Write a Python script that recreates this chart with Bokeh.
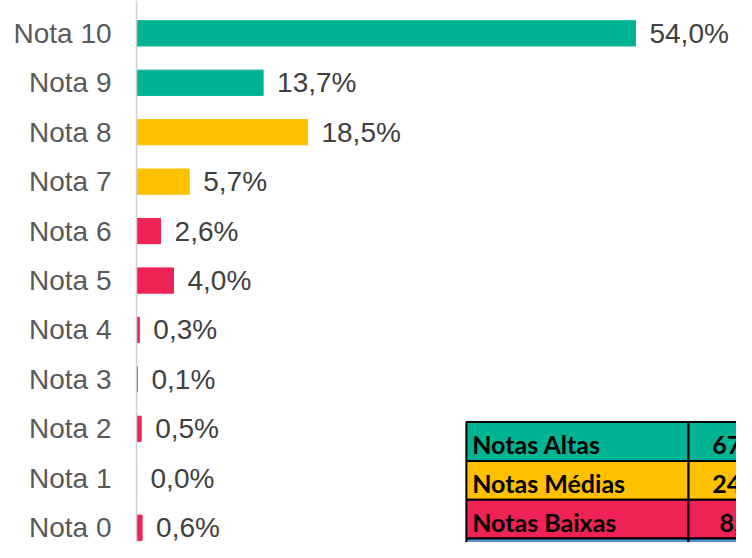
from bokeh.plotting import figure
from bokeh.models import Range1d, Span, ColumnDataSource
from bokeh.core.properties import value
from bokeh.embed import file_html
from bokeh.resources import INLINE

# ---- data ----
categories = ["Nota 10", "Nota 9", "Nota 8", "Nota 7", "Nota 6", "Nota 5",
              "Nota 4", "Nota 3", "Nota 2", "Nota 1", "Nota 0"]
grades = [10, 9, 8, 7, 6, 5, 4, 3, 2, 1, 0]
percents = [54.0, 13.7, 18.5, 5.7, 2.6, 4.0, 0.3, 0.1, 0.5, 0.0, 0.6]
groups = ["alta", "alta", "media", "media", "baixa", "baixa",
          "baixa", "baixa", "baixa", "baixa", "baixa"]

table_labels = ["Notas Altas", "Notas Médias", "Notas Baixas"]
table_values = ["67,7%", "24,2%", "8,1%"]
table_groups = ["alta", "media", "baixa", "total"]

palette = {"alta": "#00B493", "media": "#FFC000", "baixa": "#EF2256", "total": "#5B8FD9"}

# ---- layout (pixels) ----
W, H = 736, 542
SX, SY = W / 752, H / 558
PX_PER_PCT = 9.44 * SX
AXIS_PX = 139.0 * SX
ROW_PX = 50.9 * SY
TOP_CENTER_PX = 33.8 * SY

x_start = -AXIS_PX / PX_PER_PCT
x_end = (W - AXIS_PX) / PX_PER_PCT
y_end = 10 + TOP_CENTER_PX / ROW_PX
y_start = y_end - H / ROW_PX

def dx(px):
    return x_start + px * SX / PX_PER_PCT

def dy(py):
    return y_end - py * SY / ROW_PX

p = figure(width=W, height=H, x_range=Range1d(x_start, x_end),
           y_range=Range1d(y_start, y_end), output_backend="svg",
           toolbar_location=None, min_border=0, title=None,
           x_axis_location=None, y_axis_location=None)
p.grid.visible = False
p.outline_line_color = None
p.background_fill_color = "white"
p.border_fill_color = "white"

# axis line
p.add_layout(Span(location=0, dimension="height", line_color="#d0d0d0", line_width=1.5))

src = ColumnDataSource(dict(
    y=grades, v=percents, cat=categories,
    color=[palette[g] for g in groups],
    lab=[f"{v:.1f}".replace(".", ",") + "%" for v in percents],
))

p.hbar(y="y", left=0, right="v", height=26 * SY / ROW_PX, color="color", source=src)

p.text(x=0, y="y", text="cat", source=src, text_align="right", text_baseline="middle",
       x_offset=-25, text_font=value("Liberation Sans"), text_font_size="28px",
       text_color="#595959")
p.text(x="v", y="y", text="lab", source=src, text_align="left", text_baseline="middle",
       x_offset=14, text_font=value("Liberation Sans"), text_font_size="28px",
       text_color="#404040")

# ---- summary table (reference pixel layout) ----
T_LEFT, T_DIV, T_RIGHT = 476, 703, 823
T_TOP, T_ROW = 434, 40
nr = len(table_groups)
tops = [dy(T_TOP + i * T_ROW) for i in range(nr)]
bots = [dy(T_TOP + (i + 1) * T_ROW) for i in range(nr)]
tcolors = [palette[g] for g in table_groups]
p.quad(left=[dx(T_LEFT)] * nr, right=[dx(T_DIV)] * nr, top=tops, bottom=bots,
       fill_color=tcolors, line_color="black", line_width=2)
p.quad(left=[dx(T_DIV)] * nr, right=[dx(T_RIGHT)] * nr, top=tops, bottom=bots,
       fill_color=tcolors, line_color="black", line_width=2)
n = len(table_labels)
mids = [dy(T_TOP + (i + 0.5) * T_ROW + 3) for i in range(n)]
p.text(x=[dx(T_LEFT + 6)] * n, y=mids, text=table_labels, text_align="left",
       text_baseline="middle", text_font=value("Lato"), text_font_style="bold",
       text_font_size="25px", text_color="black")
p.text(x=[dx((T_DIV + T_RIGHT) / 2)] * n, y=mids, text=table_values, text_align="center",
       text_baseline="middle", text_font=value("Lato"), text_font_style="bold",
       text_font_size="25px", text_color="black")

open("out.html", "w").write(file_html(p, INLINE))
